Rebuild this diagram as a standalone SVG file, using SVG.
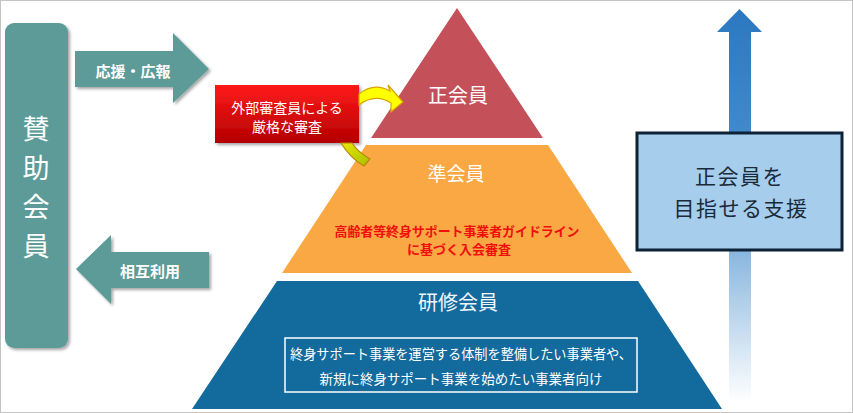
<svg xmlns="http://www.w3.org/2000/svg" width="853" height="413" viewBox="0 0 853 413">
<style>
text{font-family:"Noto Sans CJK JP","Noto Sans",sans-serif;text-anchor:middle;dominant-baseline:central}
.w{fill:#ffffff}
.teal{fill:#5B9B98}
.lbl{font-size:15px;font-weight:bold;fill:#ffffff}
</style>
<defs>
<filter id="sh" x="-10%" y="-10%" width="130%" height="130%">
<feDropShadow dx="2" dy="2" stdDeviation="1.5" flood-color="#000" flood-opacity="0.35"/>
</filter>
<linearGradient id="redg" x1="0" y1="0" x2="0" y2="1">
<stop offset="0" stop-color="#FF1A1A"/>
<stop offset="1" stop-color="#B30000"/>
</linearGradient>
<linearGradient id="upg" gradientUnits="userSpaceOnUse" x1="0" y1="9" x2="0" y2="402">
<stop offset="0" stop-color="#2C78C0"/>
<stop offset="0.3" stop-color="#3F88CB"/>
<stop offset="0.63" stop-color="#8DB9E0"/>
<stop offset="1" stop-color="#FFFFFF"/>
</linearGradient>
<linearGradient id="greeng" x1="0" y1="0" x2="1" y2="1">
<stop offset="0" stop-color="#E8E800"/>
<stop offset="1" stop-color="#A6BE00"/>
</linearGradient>
</defs>
<rect x="0.5" y="0.5" width="852" height="412" fill="#FFFFFF" stroke="#C4C4C4"/>

<g id="sponsor">
<rect x="5" y="23" width="63" height="325" rx="9" class="teal" filter="url(#sh)"/>
<text x="36" y="127" class="w" font-size="27">賛</text>
<text x="36" y="166" class="w" font-size="27">助</text>
<text x="36" y="205" class="w" font-size="27">会</text>
<text x="36" y="244" class="w" font-size="27">員</text>
</g>

<g id="support-target">
<path d="M729,400 L729,32 L717,32 L739.5,9 L762,32 L751,32 L751,400 Z" fill="url(#upg)"/>
</g>

<g id="connectors">
<g id="arrow-support">
<polygon points="75,51 173,51 173,33 209,69 173,103 173,87 75,87" class="teal" filter="url(#sh)"/>
<text x="133" y="70" class="lbl">応援・広報</text>
</g>
<g id="arrow-mutual">
<polygon points="209,252 111,252 111,235 76,269 111,304 111,288 209,288" class="teal" filter="url(#sh)"/>
<text x="150" y="270" class="lbl" font-size="16">相互利用</text>
</g>
</g>

<g id="full-member">
<polygon points="457,8 543,138 371,138" fill="#C4505A"/>
<text x="458" y="94" class="w" font-size="20">正会員</text>
</g>

<g id="associate-member">
<polygon points="366,145 548,145 632,273 282,273" fill="#FAA843"/>
<text x="456" y="172" class="w" font-size="19">準会員</text>
<text x="457" y="230" fill="#F00E0E" font-size="13" font-weight="bold" textLength="245" lengthAdjust="spacingAndGlyphs">高齢者等終身サポート事業者ガイドライン</text>
<text x="459" y="248" fill="#F00E0E" font-size="13" font-weight="bold">に基づく入会審査</text>
</g>

<g id="trainee-member">
<polygon points="277,281 638,281 722,409 192,409" fill="#136A9C"/>
<text x="458" y="301" fill="#F0F5FA" font-size="20">研修会員</text>
<rect x="285" y="338" width="352" height="54" fill="none" stroke="#FFFFFF" stroke-width="1.5"/>
<text x="461" y="353" class="w" font-size="14" textLength="342" lengthAdjust="spacingAndGlyphs">終身サポート事業を運営する体制を整備したい事業者や、</text>
<text x="461" y="378" class="w" font-size="14" textLength="283" lengthAdjust="spacingAndGlyphs">新規に終身サポート事業を始めたい事業者向け</text>
</g>

<g id="review">
<rect x="215" y="85" width="144" height="58" fill="url(#redg)" filter="url(#sh)"/>
<text x="287" y="107" class="w" font-size="14">外部審査員による</text>
<text x="287" y="126" class="w" font-size="14">厳格な審査</text>
<path d="M359,94 Q374,82 390,91 L388,85 L403,102 L391,112 L391,103 Q375,93 359,105 Z" fill="#FFFF00" stroke="#D9A300" stroke-width="1.2"/>
<path d="M341,143 Q350,158 364,166 L370,159 Q358,152 352,143 Z" fill="url(#greeng)" stroke="#B8860B" stroke-width="1.2"/>
</g>

<g id="support-box">
<rect x="637" y="133" width="205" height="117" fill="#A6CDEC" stroke="#0D2137" stroke-width="3"/>
<text x="740" y="175" fill="#1A2A3A" font-size="21" letter-spacing="1.5">正会員を</text>
<text x="741" y="207" fill="#1A2A3A" font-size="21" letter-spacing="1.5">目指せる支援</text>
</g>
</svg>
